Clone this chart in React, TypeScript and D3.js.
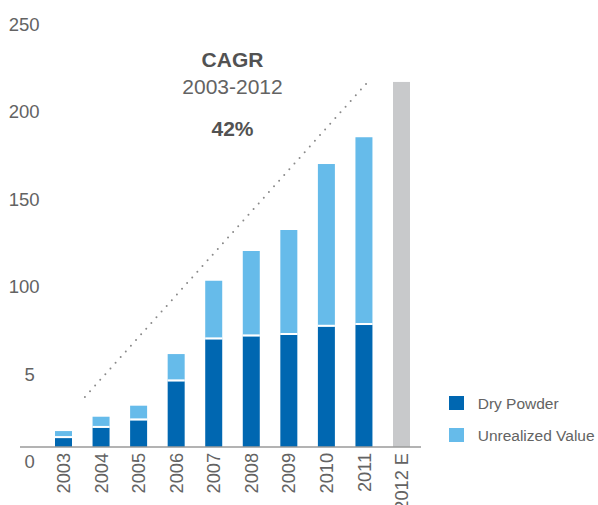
import React from "react";
import * as d3 from "d3";

const categories = ["2003", "2004", "2005", "2006", "2007", "2008", "2009", "2010", "2011", "2012 E"];
const dryPowder = [5.1, 10.9, 15.2, 37.5, 61.5, 63.2, 64.0, 68.7, 69.7, 0];
const unrealizedValue = [4.0, 6.4, 8.4, 15.6, 33.5, 48.8, 60.0, 93.0, 107.3, 0];
const estimate = [0, 0, 0, 0, 0, 0, 0, 0, 0, 208.6];
const yTickValues = [0, 50, 100, 150, 200, 250];
const yTickLabels = ["0", "5", "100", "150", "200", "250"];
const legendItems = ["Dry Powder", "Unrealized Value"];
const trendLine = [
  { idx: 0.57, value: 28.6 },
  { idx: 8.16, value: 210 },
];
const cagrTitle = "CAGR";
const cagrPeriod = "2003-2012";
const cagrValue = "42%";

const W = 598;
const H = 505;
const DARK = "#0067b1";
const LIGHT = "#66bbea";
const GREY = "#c8c9cb";
const TEXT = "#636363";
const FONT = "'Helvetica Neue', Helvetica, 'Liberation Sans', Arial, sans-serif";

export default function App() {
  const baseline = 447;
  const y = d3.scaleLinear().domain([0, 250]).range([baseline, baseline - 250 * 1.75]);
  const x = d3.scalePoint<string>().domain(categories).range([63.5, 401.5]);
  const xi = d3.scaleLinear().domain([0, categories.length - 1]).range([63.5, 401.5]);
  const barW = 17;
  const line = d3
    .line<{ idx: number; value: number }>()
    .x((d) => xi(d.idx))
    .y((d) => y(d.value));

  return (
    <svg
      width={W}
      height={H}
      style={{ position: "absolute", left: 0, top: 0, background: "#fff" }}
      fontFamily={FONT}
    >
      {/* y tick labels */}
      {yTickValues.map((v, i) => {
        const lab = yTickLabels[i];
        return (
          <text
            key={v}
            x={lab.length < 3 ? 24.5 : 8.8}
            y={y(v) + 21.2}
            fontSize={18.5}
            fill={TEXT}
          >
            {lab}
          </text>
        );
      })}

      {/* trend dotted line */}
      <path
        d={line(trendLine) || ""}
        fill="none"
        stroke="#8a8a8a"
        strokeWidth={2}
        strokeLinecap="round"
        strokeDasharray="0 7.65"
      />

      {/* bars */}
      {categories.map((c, i) => {
        const cx = x(c) as number;
        const d = dryPowder[i];
        const u = unrealizedValue[i];
        const e = estimate[i];
        return (
          <g key={c}>
            {e > 0 && (
              <rect x={cx - barW / 2} y={y(e)} width={barW} height={y(0) - y(e)} fill={GREY} />
            )}
            {u > 0 && (
              <rect x={cx - barW / 2} y={y(d + u)} width={barW} height={y(d) - y(d + u)} fill={LIGHT} />
            )}
            {d > 0 && (
              <rect x={cx - barW / 2} y={y(d)} width={barW} height={y(0) - y(d)} fill={DARK} />
            )}
            {d > 0 && u > 0 && (
              <line
                x1={cx - barW / 2}
                x2={cx + barW / 2}
                y1={y(d) - 1}
                y2={y(d) - 1}
                stroke="#ffffff"
                strokeWidth={2}
              />
            )}
          </g>
        );
      })}

      {/* axis baseline */}
      <line x1={20} x2={421} y1={baseline} y2={baseline} stroke="#9a9a9a" strokeWidth={1.5} />

      {/* x labels */}
      {categories.map((c) => (
        <text
          key={c}
          transform={`translate(${x(c)},${baseline + 6}) rotate(-90)`}
          textAnchor="end"
          dy="0.36em"
          fontSize={18.2}
          fill={TEXT}
        >
          {c}
        </text>
      ))}

      {/* CAGR annotation */}
      <text x={232.5} y={66.7} textAnchor="middle" fontSize={21} fontWeight={700} fill="#525252">
        {cagrTitle}
      </text>
      <text x={232.5} y={94.3} textAnchor="middle" fontSize={21} fill={TEXT}>
        {cagrPeriod}
      </text>
      <text x={232.5} y={135.7} textAnchor="middle" fontSize={21} fontWeight={700} fill="#525252">
        {cagrValue}
      </text>

      {/* legend */}
      {legendItems.map((name, i) => (
        <g key={name} transform={`translate(449,${396 + i * 32})`}>
          <rect x={0} y={0} width={15} height={14} fill={i === 0 ? DARK : LIGHT} />
          <text x={28.7} y={12.5} fontSize={15.5} fill={TEXT}>
            {name}
          </text>
        </g>
      ))}
    </svg>
  );
}
